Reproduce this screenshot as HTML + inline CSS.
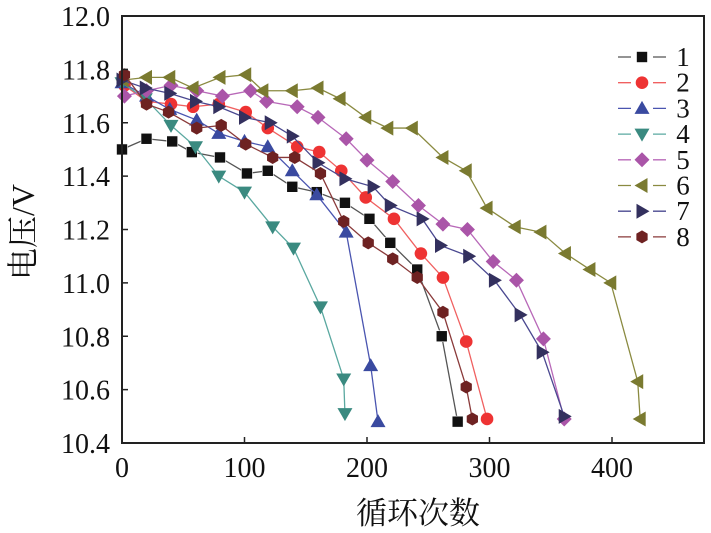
<!DOCTYPE html>
<html><head><meta charset="utf-8"><style>
html,body{margin:0;padding:0;background:#fff;}
svg{display:block;font-family:"Liberation Serif","Noto Serif CJK SC",serif;}
</style></head><body>
<svg id="chart" width="711" height="533" viewBox="0 0 711 533" xmlns="http://www.w3.org/2000/svg">
<g id="plot"></g>
<g id="axes"></g>
<g id="legend"></g>
<text x="418" y="524" font-size="31" text-anchor="middle" fill="#111">循环次数</text>
<text transform="translate(34,232) rotate(-90)" font-size="32" text-anchor="middle" fill="#111">电压/V</text>
</svg>
<script>
const xTicks=[0,100,200,300,400];
const yTicks=[10.4,10.6,10.8,11.0,11.2,11.4,11.6,11.8,12.0];
const seriesNames=["1","2","3","4","5","6","7","8"];
const s1x=[0,20,41,57,80,102,119,139,159,182,202,219,241,261,274];
const s1y=[11.50,11.54,11.53,11.49,11.47,11.41,11.42,11.36,11.34,11.30,11.24,11.15,11.05,10.80,10.48];
const s2x=[2,20,40,58,79,101,119,143,161,179,199,222,244,262,281,298];
const s2y=[11.74,11.68,11.67,11.66,11.67,11.64,11.58,11.51,11.49,11.42,11.32,11.24,11.11,11.02,10.78,10.49];
const s3x=[0,20,39,61,79,100,119,139,159,183,203,209];
const s3y=[11.75,11.70,11.65,11.61,11.56,11.53,11.51,11.42,11.33,11.19,10.69,10.48];
const s4x=[0,19,40,60,79,100,123,140,162,181,182];
const s4y=[11.75,11.69,11.59,11.51,11.40,11.34,11.21,11.13,10.91,10.64,10.51];
const s5x=[2,20,40,61,82,105,118,143,160,183,200,221,242,262,282,303,322,344,361];
const s5y=[11.70,11.72,11.74,11.72,11.70,11.72,11.68,11.66,11.62,11.54,11.46,11.38,11.29,11.22,11.20,11.08,11.01,10.79,10.49];
const s6x=[1,20,39,58,80,101,115,139,160,178,199,217,237,262,281,298,321,342,362,382,399,421,423];
const s6y=[11.76,11.77,11.77,11.73,11.77,11.78,11.72,11.72,11.73,11.69,11.62,11.58,11.58,11.47,11.42,11.28,11.21,11.19,11.11,11.05,11.00,10.63,10.49];
const s7x=[0,19,39,60,79,100,121,139,160,182,205,219,245,260,283,304,325,343,361];
const s7y=[11.76,11.73,11.71,11.68,11.66,11.62,11.60,11.55,11.45,11.39,11.36,11.29,11.24,11.14,11.10,11.01,10.88,10.74,10.50];
const s8x=[2,20,38,61,81,101,123,141,162,181,201,221,241,262,281,286];
const s8y=[11.78,11.67,11.64,11.58,11.59,11.52,11.47,11.47,11.41,11.23,11.15,11.09,11.02,10.89,10.61,10.49];
const seriesX=[s1x,s2x,s3x,s4x,s5x,s6x,s7x,s8x];
const seriesY=[s1y,s2y,s3y,s4y,s5y,s6y,s7y,s8y];
const colors=["#111111","#ee3333","#3a4aa0","#3a8a80","#aa55a8","#7a7a30","#33305e","#6e2222"];
const lineColors=["#555","#f06060","#4a55b0","#5aa8a0","#b868b8","#8a8a40","#4a4890","#8a3a3a"];
const shapes=["square","circle","up","down","diamond","left","right","hex"];
const X0=122,X1=704,Y0=16,Y1=443;
function xs(v){return X0+(v-0)*(245/200);}
function ys(v){return Y1-(v-10.4)*(Y1-Y0)/1.6;}
const NS="http://www.w3.org/2000/svg";
function mk(t,a,p){const e=document.createElementNS(NS,t);for(const k in a)e.setAttribute(k,a[k]);p.appendChild(e);return e;}
function marker(shape,cx,cy,col,p){
  const r=6.5;let e;
  if(shape==="square") e=mk("rect",{x:cx-5.5,y:cy-5.5,width:11,height:11,fill:col,stroke:"#fff","stroke-width":0.6},p);
  else if(shape==="circle") e=mk("circle",{cx:cx,cy:cy,r:6.3,fill:col},p);
  else {
    let pts;
    if(shape==="up") pts=[[0,-r-1],[r+1,r-1],[-r-1,r-1]];
    else if(shape==="down") pts=[[0,r+1],[r+1,-r+1],[-r-1,-r+1]];
    else if(shape==="left") pts=[[-r-1,0],[r-1,-r-1],[r-1,r+1]];
    else if(shape==="right") pts=[[r+1,0],[-r+1,-r-1],[-r+1,r+1]];
    else if(shape==="diamond") pts=[[0,-r-1],[r+1,0],[0,r+1],[-r-1,0]];
    else {pts=[];for(let i=0;i<6;i++){const a=Math.PI/3*i+Math.PI/6;pts.push([r*Math.cos(a),r*Math.sin(a)]);}}
    e=mk("polygon",{points:pts.map(q=>(cx+q[0])+","+(cy+q[1])).join(" "),fill:col},p);
  }
  return e;
}
const plot=document.getElementById("plot");
for(let s=0;s<seriesX.length;s++){
  const g=mk("g",{},plot);
  
  
  const pts=seriesX[s].map((v,i)=>xs(v)+","+ys(seriesY[s][i])).join(" ");
  const pl=mk("polyline",{points:pts,fill:"none",stroke:lineColors[s],"stroke-width":1.3},g);
  
  
  seriesX[s].forEach((v,i)=>{
    const m=marker(shapes[s],xs(v),ys(seriesY[s][i]),colors[s],g);
    
    
  });
}
const axes=document.getElementById("axes");
const frame=mk("rect",{x:X0,y:Y0,width:X1-X0,height:Y1-Y0,fill:"none",stroke:"#222","stroke-width":2},axes);


xTicks.forEach(t=>{
  const tk=mk("line",{x1:xs(t),x2:xs(t),y1:Y1,y2:Y1-6,stroke:"#222","stroke-width":1.5},axes);
  
  
  const lb=mk("text",{x:xs(t),y:477,"font-size":28,"text-anchor":"middle",fill:"#111"},axes);
  lb.textContent=String(t);
  
  
});
yTicks.forEach(t=>{
  const tk=mk("line",{x1:X0,x2:X0+6,y1:ys(t),y2:ys(t),stroke:"#222","stroke-width":1.5},axes);
  
  
  const lb=mk("text",{x:110,y:ys(t)+10,"font-size":28,"text-anchor":"end",fill:"#111"},axes);
  lb.textContent=t.toFixed(1);
  
  
});
const legend=document.getElementById("legend");
seriesNames.forEach((n,i)=>{
  const y=57+i*25.7;
  const g=mk("g",{},legend);
  
  
  mk("line",{x1:618,x2:666,y1:y,y2:y,stroke:lineColors[i],"stroke-width":1.3},g);
  mk("rect",{x:631,y:y-8,width:22,height:16,fill:"#fff"},g);
  marker(shapes[i],642,y,colors[i],g);
  const t=mk("text",{x:683,y:y+9,"font-size":27,"text-anchor":"middle",fill:"#111"},g);
  t.textContent=n;
});
</script>
</body></html>
